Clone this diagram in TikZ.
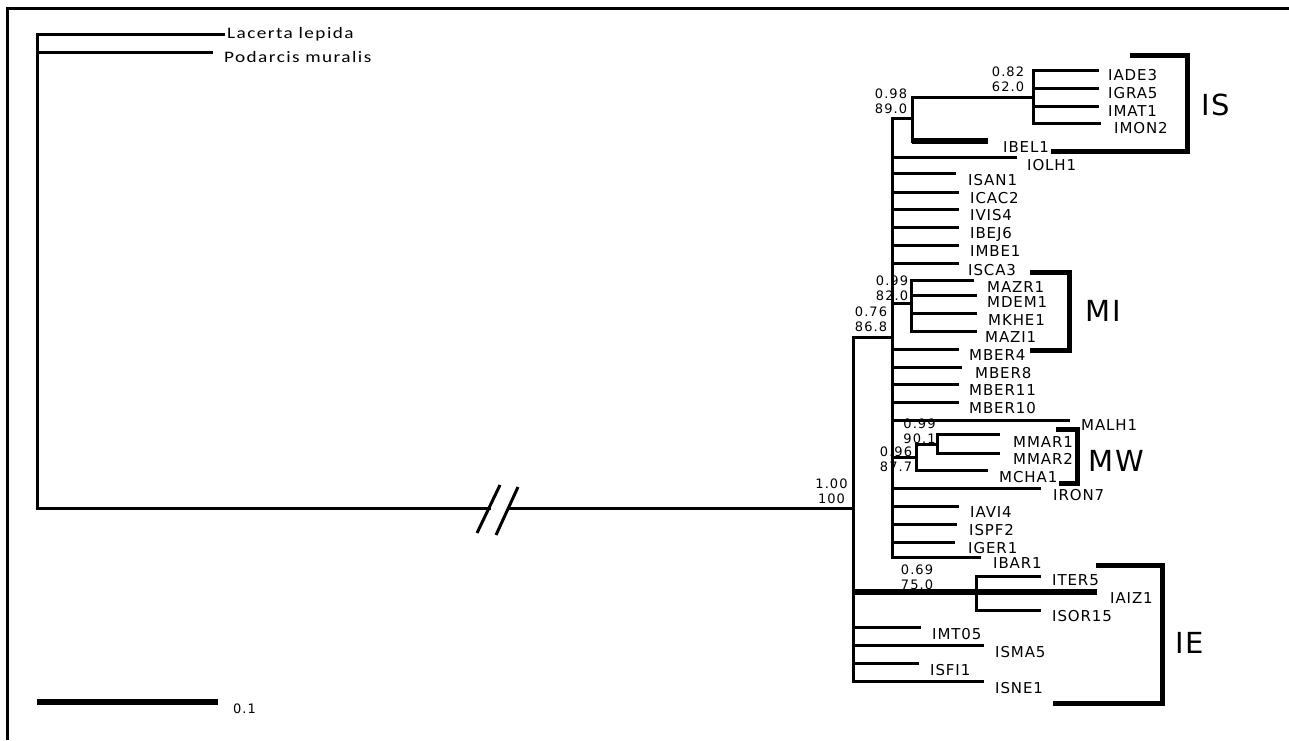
\documentclass[tikz,border=0pt]{standalone}
\usepackage{fontspec}
\newfontfamily\taxfont[LetterSpace=6]{DejaVu Sans}
\newfontfamily\supfont[LetterSpace=8]{DejaVu Sans}
\newfontfamily\outfont[FakeStretch=1.2,LetterSpace=9]{Carlito}

\begin{document}
\begin{tikzpicture}[x=1pt, y=-1pt,
    branch/.style={line width=3pt, line cap=rect},
    heavy/.style={line width=5.5pt},
    bracket/.style={line width=5pt, line cap=rect},
    taxon/.style={anchor=base west, inner sep=0pt, font=\taxfont\fontsize{15}{18}\selectfont},
    outgroup/.style={anchor=base west, inner sep=0pt, font=\outfont\fontsize{16}{18}\selectfont},
    support/.style={inner sep=0pt, align=center, font=\supfont\fontsize{13}{15}\selectfont},
    clade/.style={inner sep=0pt, font=\taxfont\fontsize{29}{32}\selectfont}]
    \useasboundingbox (0,0) rectangle (1289,740);
    \draw[line width=3pt] (7,740) -- (7,8) -- (1289,8);

    % internal nodes
    \coordinate (rt) at (37,508);
    \coordinate (n100) at (853,508);
    \coordinate (n076) at (892,337);
    \coordinate (n098) at (912,118);
    \coordinate (n082) at (1033,97);
    \coordinate (nMI) at (911,303);
    \coordinate (n096) at (916,457);
    \coordinate (nW099) at (937,444);
    \coordinate (n069) at (976,592);

    % tips and their labels
    \foreach \n/\ex/\ey/\lx/\ly in {IADE3/1097/70/1108/75, IGRA5/1097/88/1108/93,
      IMAT1/1097/106/1108/111, IMON2/1099/123/1114/128, IBEL1/988/141/1003/147,
      IOLH1/1015/157/1027/165, ISAN1/954/173/968/180, ICAC2/957/192/970/198,
      IVIS4/957/209/970/215, IBEJ6/957/227/970/233, IMBE1/957/245/970/251,
      ISCA3/957/263/968/270, MAZR1/972/280/987/287, MDEM1/975/295/987/302,
      MKHE1/975/313/988/320, MAZI1/975/331/985/337, MBER4/957/349/969/355,
      MBER8/960/367/975/373, MBER11/957/384/969/390, MBER10/957/402/969/408,
      MALH1/1068/420/1081/425, MMAR1/998/434/1013/442, MMAR2/998/453/1013/459,
      MCHA1/986/470/999/477, IRON7/1039/488/1053/495, IAVI4/957/506/970/512,
      ISPF2/955/524/969/530, IGER1/953/542/968/548, IBAR1/979/557/993/563,
      ITER5/1039/576/1052/580, IAIZ1/1097/592/1110/598, ISOR15/1039/610/1052/616,
      IMT05/919/627/932/634, ISMA5/982/645/995/652, ISFI1/917/663/930/670,
      ISNE1/982/681/995/688}
      {
        \coordinate (e\n) at (\ex,\ey);
        \node[taxon] (t\n) at (\lx,\ly+5.5) {\n};
      }

    % outgroups and the broken stem
    \coordinate (eLac) at (223,34);
    \coordinate (ePod) at (211,52);
    \node[outgroup] (tLac) at (227,38.3) {Lacerta lepida};
    \node[outgroup] (tPod) at (224,62.7) {Podarcis muralis};
    \draw[branch] (eLac) -| (rt);
    \draw[branch] (ePod -| rt) -- (ePod);
    \coordinate (brkL) at (489,508);
    \coordinate (brkR) at (508,508);
    \draw[branch] (rt) -- (brkL);
    \draw[branch] (brkR) -- (n100);
    \draw[line width=3pt] (brkL) ++(-12,25) -- ++(23,-48);
    \draw[line width=3pt] (brkR) ++(-12,27) -- ++(22,-48);

    % n100
    \draw[branch] (n076 -| n100) -- (eISNE1 -| n100);
    \draw[branch] (n076 -| n100) -- (n076);
    \draw[heavy] (n069 -| n100) -- (n069);
    \foreach \n in {IMT05,ISMA5,ISFI1,ISNE1}
      \draw[branch] (e\n -| n100) -- (e\n);
    % n069
    \draw[branch] (eITER5 -| n069) -- (eISOR15 -| n069);
    \draw[branch] (eITER5 -| n069) -- (eITER5);
    \draw[branch] (eISOR15 -| n069) -- (eISOR15);
    \draw[heavy] (n069) -- (eIAIZ1);
    % n076
    \draw[branch] (n098 -| n076) -- (eIBAR1 -| n076);
    \draw[branch] (n098 -| n076) -- (n098);
    \draw[branch] (nMI -| n076) -- (nMI);
    \draw[branch] (n096 -| n076) -- (n096);
    \foreach \n in {IOLH1,ISAN1,ICAC2,IVIS4,IBEJ6,IMBE1,ISCA3,MBER4,MBER8,MBER11,
      MBER10,MALH1,IRON7,IAVI4,ISPF2,IGER1,IBAR1}
      \draw[branch] (e\n -| n076) -- (e\n);
    % n098 and n082
    \draw[branch] (n082 -| n098) -- (eIBEL1 -| n098);
    \draw[branch] (n082 -| n098) -- (n082);
    \draw[heavy] (eIBEL1 -| n098) -- (eIBEL1);
    \draw[branch] (eIADE3 -| n082) -- (eIMON2 -| n082);
    \foreach \n in {IADE3,IGRA5,IMAT1,IMON2}
      \draw[branch] (e\n -| n082) -- (e\n);
    % nMI
    \draw[branch] (eMAZR1 -| nMI) -- (eMAZI1 -| nMI);
    \foreach \n in {MAZR1,MDEM1,MKHE1,MAZI1}
      \draw[branch] (e\n -| nMI) -- (e\n);
    % n096 and nW099
    \draw[branch] (nW099 -| n096) -- (eMCHA1 -| n096);
    \draw[branch] (nW099 -| n096) -- (nW099);
    \draw[branch] (eMCHA1 -| n096) -- (eMCHA1);
    \draw[branch] (eMMAR1 -| nW099) -- (eMMAR2 -| nW099);
    \draw[branch] (eMMAR1 -| nW099) -- (eMMAR1);
    \draw[branch] (eMMAR2 -| nW099) -- (eMMAR2);

    % support values
    \node[support] (s100) at (831.5,491) {1.00\\100};
    \node[support] (s076) at (871,319.5) {0.76\\86.8};
    \node[support] (s098) at (891,101) {0.98\\89.0};
    \node[support] (s082) at (1008,79.5) {0.82\\62.0};
    \node[support] (s099a) at (892,288.5) {0.99\\82.0};
    \node[support] (s099b) at (919.5,431) {0.99\\90.1};
    \node[support] (s096) at (896,459) {0.96\\87.7};
    \node[support] (s069) at (917,577.5) {0.69\\75.0};

    % clade brackets
    \coordinate (isA) at (1132,55); \coordinate (isB) at (1187,151); \coordinate (isC) at (1053,151);
    \coordinate (miA) at (1032,272); \coordinate (miB) at (1069,350); \coordinate (miC) at (1032,350);
    \coordinate (mwA) at (1058,429); \coordinate (mwB) at (1077,483); \coordinate (mwC) at (1061,483);
    \coordinate (ieA) at (1098,565); \coordinate (ieB) at (1162,703); \coordinate (ieC) at (1055,703);
    \draw[bracket] (isA) -| (isB) -- (isC);
    \draw[bracket] (miA) -| (miB) -- (miC);
    \draw[bracket] (mwA) -| (mwB) -- (mwC);
    \draw[bracket] (ieA) -| (ieB) -- (ieC);
    \node[clade] (cIS) at (1216,105) {IS};
    \node[clade] (cMI) at (1103,311) {MI};
    \node[clade] (cMW) at (1116,461) {MW};
    \node[clade] (cIE) at (1190,643) {IE};

    % scale bar
    \coordinate (sbL) at (37,702);
    \coordinate (sbR) at (218,702);
    \draw[line width=5.5pt] (sbL) -- (sbR);
    \node[support, anchor=west] (sbT) at (233,709) {0.1};
\end{tikzpicture}
\end{document}
